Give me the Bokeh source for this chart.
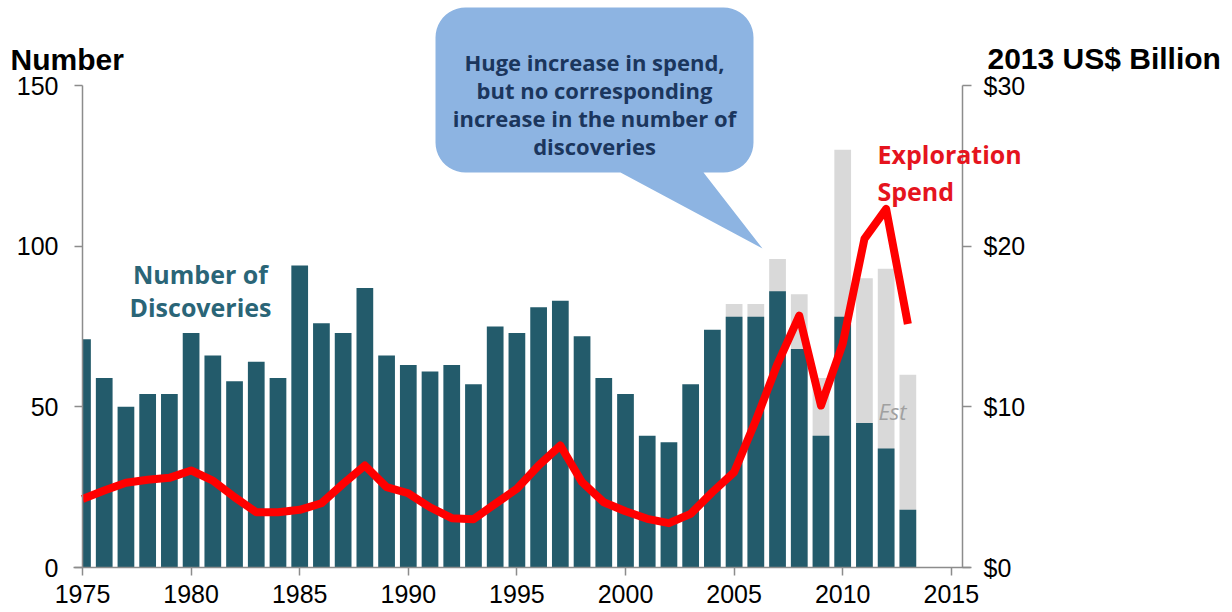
from bokeh.plotting import figure
from bokeh.models import Range1d, LinearAxis, FixedTicker, Label, NumeralTickFormatter
from bokeh.embed import file_html
from bokeh.resources import INLINE
import numpy as np

# ---------------- data ----------------
years = list(range(1975, 2014))
discoveries = [71, 59, 50, 54, 54, 73, 66, 58, 64, 59,
               94, 76, 73, 87, 66, 63, 61, 63, 57, 75,
               73, 81, 83, 72, 59, 54, 41, 39, 57, 74,
               78, 78, 86, 68, 41, 78, 45, 37, 18]
est_years = [2005, 2006, 2007, 2008, 2009, 2010, 2011, 2012, 2013]
est_totals = [82, 82, 96, 85, 59, 130, 90, 93, 60]
spend = [4.27, 4.79, 5.27, 5.46, 5.58, 6.04, 5.41, 4.38, 3.44, 3.44,
         3.59, 4.0, 5.21, 6.35, 5.0, 4.62, 3.75, 3.07, 3.0, 3.96,
         4.9, 6.35, 7.59, 5.31, 4.06, 3.5, 3.03, 2.76, 3.34, 4.69,
         5.93, 9.15, 12.68, 15.68, 10.08, 13.92, 20.45, 22.32, 15.16]
x_ticks = [1975, 1980, 1985, 1990, 1995, 2000, 2005, 2010, 2015]
left_ticks = [0, 50, 100, 150]
right_ticks = [0, 10, 20, 30]

# ---------------- layout constants (page pixels) ----------------
W, H = 1232, 612
AX_L, AX_R, AX_B = 82, 962, 567      # left axis x, right axis x, baseline y
PX_YEAR = 21.72
PX_UNIT = (AX_B - 85) / 150.0        # px per discovery
PX_USD = (AX_B - 85) / 30.0          # px per $bn
BAR_W = 0.77


def dx(px):
    return 1975 + (px - AX_L) / PX_YEAR


def dy(py):
    return (AX_B - py) / PX_UNIT


TEAL = "#235B6B"
GREY = "#D9D9D9"
AXIS = "#8C8C8C"

p = figure(width=W, height=H, output_backend="svg", toolbar_location=None,
           x_range=Range1d(dx(0), dx(W)), y_range=Range1d(dy(H), dy(0)),
           x_axis_type=None, y_axis_type=None,
           min_border_left=0, min_border_right=0, min_border_top=0, min_border_bottom=0)
p.extra_y_ranges = {"spend": Range1d(-(H - AX_B) / PX_USD, AX_B / PX_USD)}
p.grid.visible = False
p.outline_line_color = None
p.background_fill_color = "white"
p.border_fill_color = "white"

tick_font = "Liberation Sans"


def style_axis(ax, standoff, tick_out=8):
    ax.axis_line_color = AXIS
    ax.axis_line_width = 1.5
    ax.major_tick_line_color = AXIS
    ax.major_tick_line_width = 1.5
    ax.major_tick_out = tick_out
    ax.major_tick_in = 0
    ax.minor_tick_line_color = None
    ax.major_label_text_font = tick_font
    ax.major_label_text_font_size = "25px"
    ax.major_label_text_color = "black"
    ax.major_label_standoff = standoff


xa = LinearAxis(ticker=FixedTicker(ticks=x_ticks), fixed_location=0, bounds=(dx(73), dx(970)))
style_axis(xa, 9)
p.add_layout(xa, "below")

ya = LinearAxis(ticker=FixedTicker(ticks=left_ticks), fixed_location=1975, bounds=(0, 150))
style_axis(ya, 16)
p.add_layout(ya, "left")

ra = LinearAxis(y_range_name="spend", ticker=FixedTicker(ticks=right_ticks),
                formatter=NumeralTickFormatter(format="$0"), bounds=(0, 30),
                fixed_location=dx(AX_R))
style_axis(ra, 12, tick_out=9)
p.add_layout(ra, "right")

# ---------------- bars & line ----------------
yr = np.array(years, dtype=float)
bar_left = np.maximum(yr - BAR_W / 2, 1975)   # plot area starts at 1975 (first bar is cut)
bar_right = yr + BAR_W / 2
p.vbar(x=est_years, top=est_totals, bottom=0, width=BAR_W, color=GREY, line_color=None)
p.quad(left=bar_left, right=bar_right, top=discoveries, bottom=0, color=TEAL, line_color=None)
p.line(x=years, y=spend, y_range_name="spend", line_color="#FF0000",
       line_width=8, line_join="round", line_cap="butt")

# ---------------- callout ----------------
L_, T_, R_, B_, RAD = 435, 7, 753, 172, 30
tail = [(703, B_), (762, 248), (620, B_)]
pts = []


def arc(cx, cy, a0, a1):
    for a in np.linspace(a0, a1, 12):
        pts.append((cx + RAD * np.cos(a), cy + RAD * np.sin(a)))


arc(L_ + RAD, T_ + RAD, np.pi, 1.5 * np.pi)
arc(R_ - RAD, T_ + RAD, 1.5 * np.pi, 2 * np.pi)
arc(R_ - RAD, B_ - RAD, 0, 0.5 * np.pi)
pts.extend(tail)
arc(L_ + RAD, B_ - RAD, 0.5 * np.pi, np.pi)
p.patch(x=[dx(a) for a, b in pts], y=[dy(b) for a, b in pts],
        fill_color="#8DB4E2", line_color=None)

callout_lines = ["Huge increase in spend,", "but no corresponding",
                 "increase in the number of", "discoveries"]
for i, t in enumerate(callout_lines):
    p.add_layout(Label(x=dx(594), y=dy(61 + 28.3 * i), text=t, text_align="center",
                       text_baseline="alphabetic", text_font="Open Sans",
                       text_font_style="bold", text_font_size="22px",
                       text_color="#1B365D"))

# ---------------- labels ----------------
p.add_layout(Label(x=dx(10), y=dy(59), text="Number", text_font="Liberation Sans",
                   text_font_style="bold", text_font_size="30px", text_color="black",
                   text_baseline="alphabetic"))
p.add_layout(Label(x=dx(987), y=dy(58), text="2013 US$ Billion", text_font="Liberation Sans",
                   text_font_style="bold", text_font_size="30px", text_color="black",
                   text_baseline="alphabetic"))
for i, t in enumerate(["Number of", "Discoveries"]):
    p.add_layout(Label(x=dx(200), y=dy(273 + 33 * i), text=t, text_align="center",
                       text_font="Open Sans", text_font_style="bold", text_font_size="25px",
                       text_color="#2A6577", text_baseline="alphabetic"))
for i, t in enumerate(["Exploration", "Spend"]):
    p.add_layout(Label(x=dx(877), y=dy(153 + 37 * i), text=t, text_align="left",
                       text_font="Open Sans", text_font_style="bold", text_font_size="25px",
                       text_color="#E5141E", text_baseline="alphabetic"))
p.add_layout(Label(x=dx(892), y=dy(410), text="Est", text_align="center",
                   text_font="Open Sans", text_font_style="italic", text_font_size="22px",
                   text_color="#A0A0A0", text_baseline="alphabetic"))

open("out.html", "w").write(file_html(p, INLINE))
